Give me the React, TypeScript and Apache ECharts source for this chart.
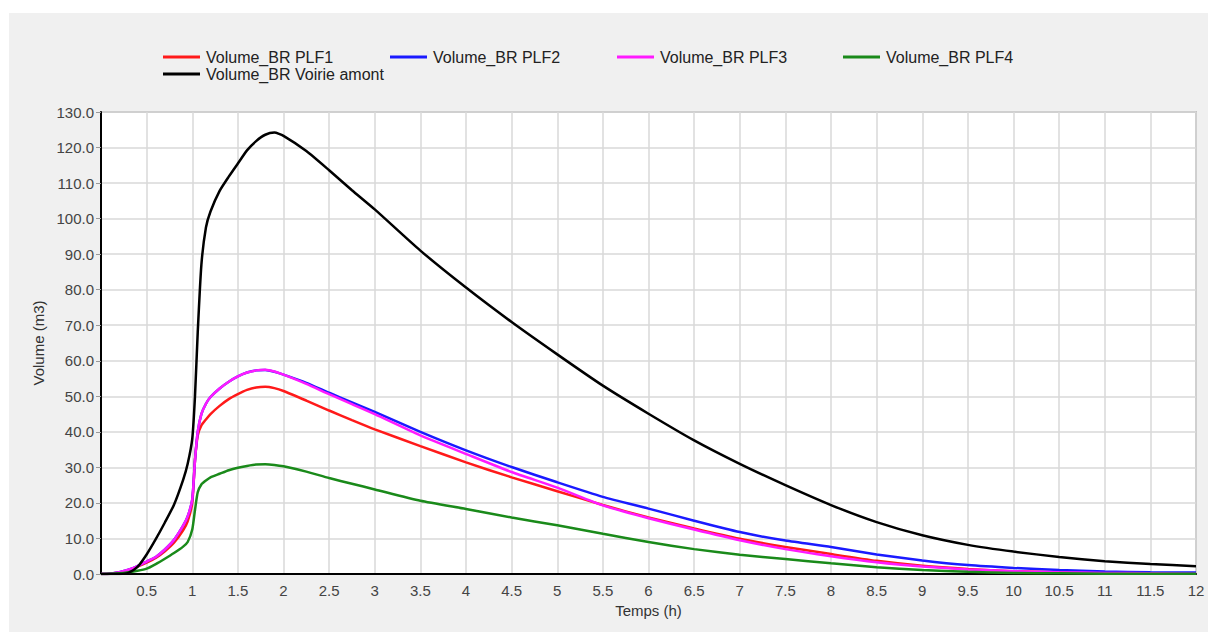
import React, { useEffect, useRef } from "react";
import * as echarts from "echarts";

const times = [0, 0.1, 0.2, 0.3, 0.4, 0.5, 0.6, 0.7, 0.8, 0.9, 0.95, 1.0, 1.03, 1.06, 1.1, 1.15, 1.2, 1.3, 1.4, 1.5, 1.6, 1.7, 1.8, 1.9, 2.0, 2.25, 2.5, 2.75, 3.0, 3.5, 4.0, 4.5, 5.0, 5.5, 6.0, 6.5, 7.0, 7.5, 8.0, 8.5, 9.0, 9.5, 10.0, 10.5, 11.0, 11.5, 12.0];

const plf1 = [0, 0.1, 0.4, 1.1, 2.1, 3.2, 4.5, 6.4, 8.8, 12.3, 14.8, 20, 32, 39, 41.8, 43.5, 45, 47.3, 49.2, 50.6, 51.8, 52.5, 52.7, 52.3, 51.5, 48.8, 46.0, 43.3, 40.7, 36.0, 31.4, 27.2, 23.3, 19.4, 15.9, 12.8, 9.9, 7.6, 5.6, 3.7, 2.3, 1.4, 0.8, 0.5, 0.3, 0.2, 0.1];
const plf2 = [0, 0.1, 0.5, 1.2, 2.2, 3.5, 4.8, 6.9, 9.6, 13.6, 16.2, 21, 32, 40, 45, 47.9, 49.8, 52.2, 54.1, 55.6, 56.7, 57.3, 57.4, 56.9, 56.1, 53.8, 51.0, 48.3, 45.6, 40.0, 34.8, 30.1, 25.8, 21.7, 18.4, 15.0, 11.8, 9.4, 7.6, 5.5, 3.8, 2.5, 1.7, 1.1, 0.7, 0.5, 0.4];
const plf3 = [0, 0.1, 0.5, 1.2, 2.2, 3.5, 4.8, 6.9, 9.6, 13.6, 16.2, 21, 32, 40, 45, 47.9, 49.8, 52.2, 54.1, 55.6, 56.7, 57.3, 57.5, 57.0, 56.1, 53.5, 50.6, 47.8, 45.0, 39.0, 33.8, 28.7, 24.3, 19.3, 15.7, 12.5, 9.5, 7.0, 5.0, 3.3, 2.1, 1.3, 0.8, 0.5, 0.3, 0.2, 0.1];
const plf4 = [0, 0.05, 0.2, 0.5, 0.9, 1.5, 2.8, 4.3, 5.9, 7.7, 9.0, 12.5, 18, 23, 25.2, 26.3, 27.2, 28.2, 29.2, 29.9, 30.4, 30.8, 30.9, 30.7, 30.3, 28.8, 27.0, 25.4, 23.8, 20.6, 18.3, 15.9, 13.7, 11.3, 9.0, 7.0, 5.4, 4.2, 3.0, 1.9, 1.1, 0.6, 0.3, 0.2, 0.1, 0.1, 0.05];
const voirie = [0, 0, 0, 0.3, 2.0, 5.5, 9.8, 14.5, 19.5, 26.5, 31.0, 38, 50, 68, 87, 97.5, 102, 107.8, 111.8, 115.5, 119.2, 121.8, 123.6, 124.2, 123.3, 119, 113.6, 108, 102.6, 91.0, 80.6, 70.9, 61.8, 53.0, 45.1, 37.6, 31.0, 25.0, 19.4, 14.6, 10.9, 8.2, 6.3, 4.8, 3.6, 2.8, 2.2];

const seriesNames = ["Volume_BR PLF1", "Volume_BR PLF2", "Volume_BR PLF3", "Volume_BR PLF4", "Volume_BR Voirie amont"];
const seriesValues = [plf1, plf2, plf3, plf4, voirie];
const seriesColors = ["#ff1a1a", "#1a1aff", "#ff1aff", "#1a8a1a", "#000000"];

const FONT = "'Liberation Sans', Arial, sans-serif";

export default function App() {
  const ref = useRef<HTMLDivElement>(null);
  useEffect(() => {
    if (!ref.current) return;
    const chart = echarts.init(ref.current, undefined, { renderer: "svg" });
    const legendPos = [
      { left: 163, top: 49 },
      { left: 390, top: 49 },
      { left: 617, top: 49 },
      { left: 843, top: 49 },
      { left: 163, top: 66 },
    ];
    const legends = seriesNames.map((n, i) => ({
      data: [n],
      left: legendPos[i].left,
      top: legendPos[i].top,
      padding: 0,
      icon: "rect",
      itemWidth: 37,
      itemHeight: 3,
      itemGap: 0,
      textStyle: { fontFamily: FONT, fontSize: 16, color: "#222", padding: [0, 0, 0, 1] },
      selectedMode: false,
    }));
    chart.setOption({
      animation: false,
      legend: legends,
      grid: {
        left: 101,
        right: 12,
        top: 112,
        bottom: 66,
        show: true,
        backgroundColor: "#ffffff",
        borderColor: "#a0a0a0",
        borderWidth: 1.5,
      },
      xAxis: {
        type: "value",
        min: 0,
        max: 12,
        interval: 0.5,
        name: "Temps (h)",
        nameLocation: "middle",
        nameGap: 23,
        nameTextStyle: { fontFamily: FONT, fontSize: 15, color: "#333" },
        axisLine: { show: true, onZero: false, lineStyle: { color: "#000", width: 2 } },
        axisTick: { show: false },
        splitLine: { show: true, lineStyle: { color: "#d9d9d9", width: 1.5 } },
        axisLabel: {
          fontFamily: FONT,
          fontSize: 15,
          color: "#444",
          margin: 9,
          formatter: (v: number) => (v === 0 ? "" : String(v)),
        },
      },
      yAxis: {
        type: "value",
        min: 0,
        max: 130,
        interval: 10,
        name: "Volume (m3)",
        nameLocation: "middle",
        nameGap: 50,
        nameTextStyle: { fontFamily: FONT, fontSize: 15, color: "#333" },
        axisLine: { show: true, lineStyle: { color: "#000", width: 2 } },
        axisTick: { show: true, length: 5, lineStyle: { color: "#999", width: 1 } },
        splitLine: { show: true, lineStyle: { color: "#d9d9d9", width: 1.5 } },
        axisLabel: {
          fontFamily: FONT,
          fontSize: 15,
          color: "#444",
          margin: 7,
          formatter: (v: number) => v.toFixed(1),
        },
      },
      series: seriesNames.map((n, i) => ({
        name: n,
        type: "line",
        data: times.map((t, j) => [t, seriesValues[i][j]]),
        symbol: "none",
        smooth: 0.2,
        lineStyle: { color: seriesColors[i], width: 2.5 },
        itemStyle: { color: seriesColors[i] },
      })),
    });
    return () => chart.dispose();
  }, []);
  return (
    <div style={{ position: "fixed", left: 0, top: 0, width: 1208, height: 640, background: "#ffffff" }}>
      <div style={{ position: "absolute", left: 9, top: 13, right: 0, bottom: 8, background: "#f0f0f0" }} />
      <div ref={ref} style={{ position: "absolute", left: 0, top: 0, width: 1208, height: 640 }} />
    </div>
  );
}
